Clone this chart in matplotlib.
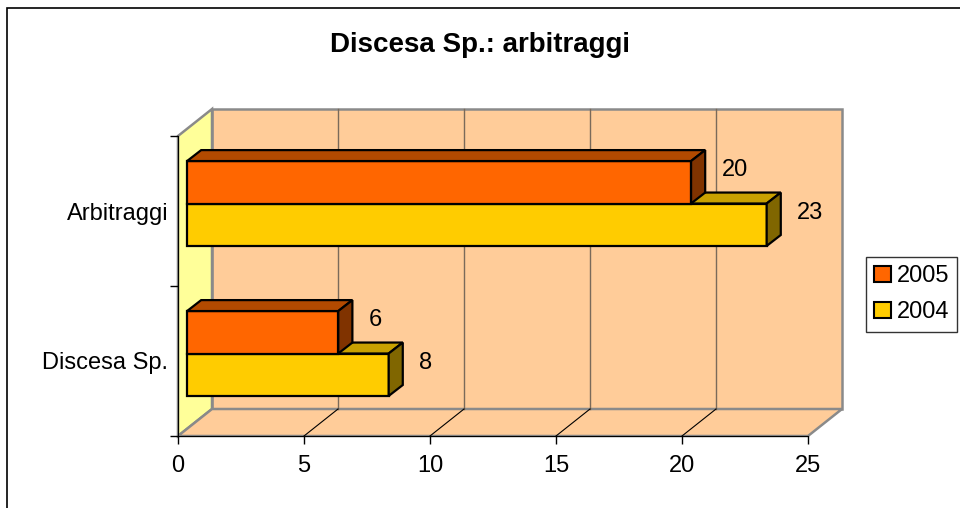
import numpy as np
import matplotlib.pyplot as plt
from matplotlib.patches import Polygon, Rectangle, Patch

plt.rcParams['font.family'] = ['Liberation Sans', 'DejaVu Sans']

categorie = ["Discesa Sp.", "Arbitraggi"]
anni = ["2004", "2005"]
valori_2004 = [8, 23]
valori_2005 = [6, 20]
colori_fronte = {"2004": "#FFCC00", "2005": "#FF6600"}
colori_sopra = {"2004": "#C9A100", "2005": "#B34A00"}
colori_lato = {"2004": "#806600", "2005": "#803300"}

# profondita' 3D in unita' dati
DX, DY = 1.35, 0.18      # pareti
XOFF = 0.36              # barre spostate verso il fondo
BDX, BDY = 0.56, 0.073   # profondita' barre
BAR_H = 0.283
BASE = 0.267
FS = 17

fig = plt.figure(figsize=(9.6, 5.08), dpi=100)
fig.patch.set_facecolor("white")
ax = fig.add_axes([178/960, 72/508, 630/960, 300/508])
ax.set_xlim(0, 25)
ax.set_ylim(0, 2)
ax.patch.set_visible(False)

# pareti
ax.add_patch(Polygon([(DX, DY), (25 + DX, DY), (25 + DX, 2 + DY), (DX, 2 + DY)],
                     closed=True, fc="#FFCC99", ec="#8a8a8a", lw=1.8, clip_on=False, zorder=1))
ax.add_patch(Polygon([(0, 0), (DX, DY), (DX, 2 + DY), (0, 2)],
                     closed=True, fc="#FFFF99", ec="#8a8a8a", lw=1.8, clip_on=False, zorder=1))
ax.add_patch(Polygon([(0, 0), (25, 0), (25 + DX, DY), (DX, DY)],
                     closed=True, fc="#FFCC99", ec="#8a8a8a", lw=1.8, clip_on=False, zorder=1))
for v in range(5, 25, 5):
    ax.plot([v + DX, v + DX], [DY, 2 + DY], color="#7a6a5a", lw=1, clip_on=False, zorder=2)
    ax.plot([v, v + DX], [0, DY], color="black", lw=0.8, clip_on=False, zorder=2)


def barra(x0, y0, val, anno):
    x1 = x0 + val
    y1 = y0 + BAR_H
    kw = dict(closed=True, ec="black", lw=1.6, clip_on=False, zorder=3, joinstyle="miter")
    # fronte, sopra, lato
    ax.add_patch(Polygon([(x0, y0), (x1, y0), (x1, y1), (x0, y1)], fc=colori_fronte[anno], **kw))
    ax.add_patch(Polygon([(x0, y1), (x1, y1), (x1 + BDX, y1 + BDY), (x0 + BDX, y1 + BDY)],
                         fc=colori_sopra[anno], **kw))
    ax.add_patch(Polygon([(x1, y0), (x1 + BDX, y0 + BDY), (x1 + BDX, y1 + BDY), (x1, y1)],
                         fc=colori_lato[anno], **kw))
    ax.text(x1 + BDX + 0.65, y0 + BAR_H / 2 + 0.08, str(val), fontsize=FS,
            ha="left", va="center", zorder=4)


for i in range(len(categorie)):
    y0 = i + BASE
    barra(XOFF, y0, valori_2004[i], "2004")
    barra(XOFF, y0 + BAR_H, valori_2005[i], "2005")

# assi
for s in ["top", "right"]:
    ax.spines[s].set_visible(False)
ax.spines["left"].set_zorder(5)
ax.spines["bottom"].set_zorder(5)
ax.set_xticks(range(0, 26, 5))
ax.set_yticks([0, 1, 2])
ax.set_yticklabels([])
ax.set_yticks([0.5, 1.5], minor=True)
ax.set_yticklabels(categorie, minor=True)
ax.tick_params(axis="both", which="major", length=6, width=1, labelsize=FS, direction="out")
ax.tick_params(axis="y", which="minor", length=0, pad=7, labelsize=FS)
ax.tick_params(axis="x", pad=8)

fig.text(480/960, 1 - 45/508, "Discesa Sp.: arbitraggi", ha="center", va="center",
         fontsize=20, fontweight="bold")

handles = [Patch(fc=colori_fronte["2005"], ec="black", lw=1.5, label="2005"),
           Patch(fc=colori_fronte["2004"], ec="black", lw=1.5, label="2004")]
leg = fig.legend(handles=handles, loc="upper left", bbox_to_anchor=(866/960, 1 - 257/508),
                 fontsize=FS, frameon=True, fancybox=False, handlelength=0.7, handleheight=0.7,
                 handletextpad=0.25, borderpad=0.35, labelspacing=0.6, borderaxespad=0)
leg.get_frame().set_edgecolor("black")
leg.get_frame().set_linewidth(1)

fig.add_artist(Rectangle((7/960, -0.1), 1.2, 1.1 - 8/508, transform=fig.transFigure,
                         fill=False, ec="black", lw=1.2))

fig.savefig("out.png", dpi=100)
